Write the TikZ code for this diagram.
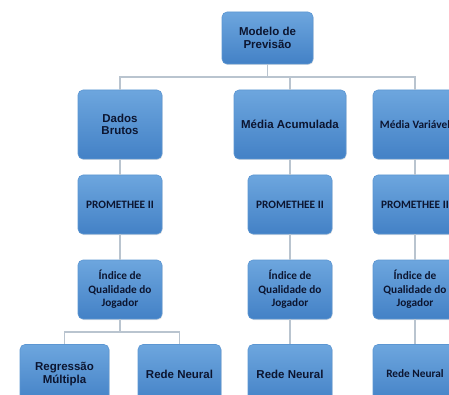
\documentclass[tikz,border=0pt]{standalone}
\usepackage{fontspec}
\setmainfont{Liberation Sans}
\newfontfamily\calfont{Carlito}
\usetikzlibrary{shadows}
\definecolor{caixatopo}{HTML}{6DA6DE}
\definecolor{caixabase}{HTML}{4381C6}
\definecolor{caixaborda}{HTML}{5C96D2}
\definecolor{textoazul}{HTML}{0C1530}
\definecolor{ligacao}{HTML}{B9C4CF}
\tikzset{
  caixa/.style={rectangle, rounded corners=5pt, top color=caixatopo, bottom color=caixabase,
    draw=caixaborda, line width=0.6pt, text=textoazul, align=center, inner sep=2pt,
    font=\fontsize{11.5}{12.5}\selectfont\bfseries,
    drop shadow={shadow xshift=0.6pt, shadow yshift=-1pt, fill=black!30, opacity=0.35}},
  calib/.style={font=\calfont\fontsize{11.3}{13.5}\selectfont\bfseries},
  estreita/.style={minimum width=84pt, minimum height=59pt},
  liga/.style={draw=ligacao, line width=1.3pt}
}
\begin{document}
\begin{tikzpicture}[x=1pt,y=-1pt]
  \clip (0,0) rectangle (449,395);
  \useasboundingbox (0,0) rectangle (449,395);
  % Draw the top box and the three sources of data
  \node[caixa, minimum width=91pt, minimum height=52pt] (modelo) at (267.5,38) {Modelo de\\Previsão};
  \node[caixa, minimum width=84pt, minimum height=69pt] (dados) at (120,124.5) {Dados\\Brutos};
  \node[caixa, minimum width=112pt, minimum height=69pt] (acum) at (290,124.5) {Média Acumulada};
  \node[caixa, calib, minimum width=84pt, minimum height=69pt] (var) at (415,124.5) {Média Variável};
  % Draw the PROMETHEE and index rows
  \foreach \n/\x in {a/120, b/290, c/415}{
    \node[caixa, calib, estreita] (prom\n) at (\x,204.5) {PROMETHEE II};
    \node[caixa, calib, estreita] (indice\n) at (\x,289.5) {Índice de\\Qualidade do\\Jogador};
  }
  % Draw the models at the bottom
  \node[caixa, minimum width=89pt, minimum height=59pt] (regressao) at (64.5,374) {Regressão\\Múltipla};
  \foreach \n/\x/\w in {a/179.5/83, b/290/84}{
    \node[caixa, minimum width=\w pt, minimum height=59pt] (rede\n) at (\x,374) {Rede Neural};
  }
  \node[caixa, calib, estreita] (redec) at (415,374) {Rede Neural};
  % Draw the connectors
  \coordinate (ramo) at (267.5,77);
  \draw[liga] (modelo.south) -- (ramo);
  \foreach \n in {dados, acum, var}{
    \draw[liga] (ramo) -| (\n.north);
  }
  \draw[liga] (dados.south) -- (proma.north);
  \draw[liga] (acum.south) -- (promb.north);
  \draw[liga] (var.south) -- (promc.north);
  \foreach \n in {a, b, c}{
    \draw[liga] (prom\n.south) -- (indice\n.north);
  }
  \draw[liga] (indiceb.south) -- (redeb.north);
  \draw[liga] (indicec.south) -- (redec.north);
  \coordinate (ramob) at (120,332);
  \draw[liga] (indicea.south) -- (ramob);
  \draw[liga] (ramob) -| (regressao.north);
  \draw[liga] (ramob) -| (redea.north);
\end{tikzpicture}
\end{document}
